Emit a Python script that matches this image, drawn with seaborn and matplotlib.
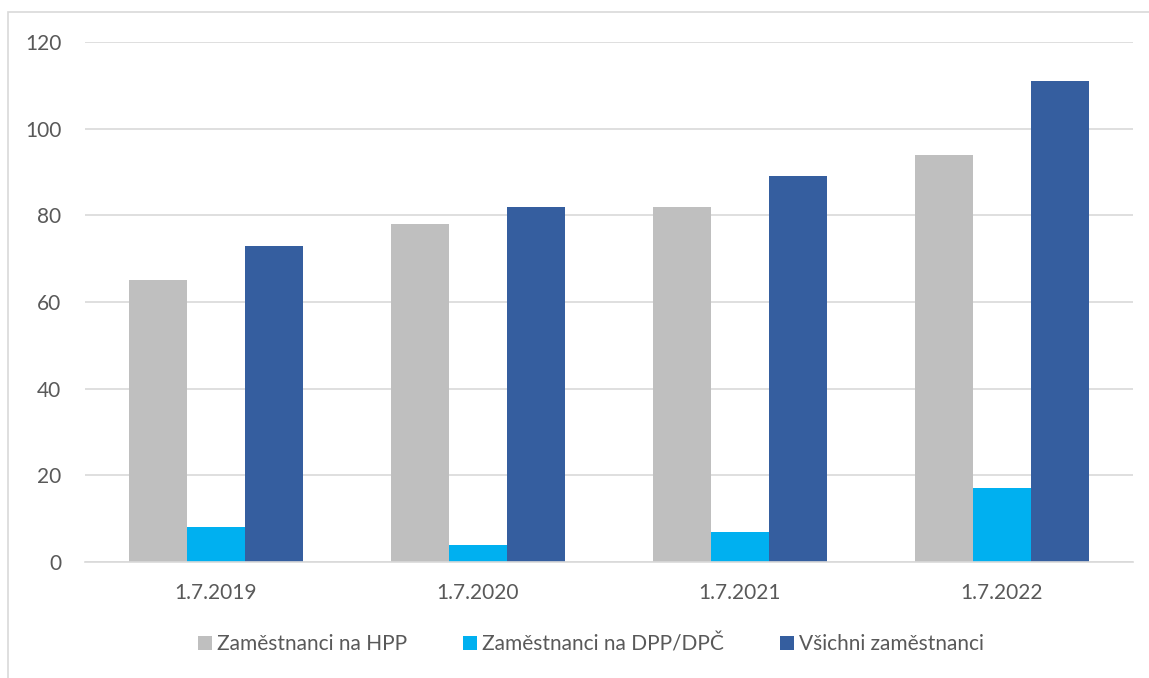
import numpy as np
import matplotlib.pyplot as plt
import pandas as pd
import seaborn as sns
from matplotlib.patches import Rectangle

# Data
dates = ["1.7.2019", "1.7.2020", "1.7.2021", "1.7.2022"]
hpp = [65, 78, 82, 94]
dpp = [8, 4, 7, 17]
vsichni = [73, 82, 89, 111]
series_names = ["Zaměstnanci na HPP", "Zaměstnanci na DPP/DPČ", "Všichni zaměstnanci"]
colors = ["#bfbfbf", "#00b0f0", "#355e9f"]

df = pd.DataFrame({
    "datum": dates * 3,
    "serie": [series_names[0]] * 4 + [series_names[1]] * 4 + [series_names[2]] * 4,
    "hodnota": hpp + dpp + vsichni,
})

sns.set_style("white")
plt.rcParams['font.family'] = ['Lato', 'DejaVu Sans']

fig = plt.figure(figsize=(11.49, 6.78), dpi=100)
ax = fig.add_axes([0.074, 0.171, 0.912, 0.767])

sns.barplot(data=df, x="datum", y="hodnota", hue="serie", palette=colors,
            width=0.664, saturation=1, linewidth=0, ax=ax, legend=True)

ax.set_ylim(0, 120)
ax.set_yticks(range(0, 121, 20))
ax.set_xlim(-0.5, 3.5)
ax.yaxis.grid(True, color="#d9d9d9", linewidth=1.2)
ax.set_axisbelow(True)
for s in ["left", "right", "top"]:
    ax.spines[s].set_visible(False)
ax.spines["bottom"].set_color("#d9d9d9")
ax.spines["bottom"].set_linewidth(1.2)
ax.tick_params(axis="both", length=0, labelsize=15, colors="#595959")
ax.tick_params(axis="x", pad=15)
ax.tick_params(axis="y", pad=17)
ax.set_xlabel("")
ax.set_ylabel("")

handles, labels = ax.get_legend_handles_labels()
ax.legend(handles, labels, loc="center", bbox_to_anchor=(0.483, -0.158),
          ncol=3, frameon=False, fontsize=15, labelcolor="#595959",
          handlelength=0.65, handleheight=0.65, handletextpad=0.25, columnspacing=2.7)

fig.patches.append(Rectangle((8 / 1149, -0.01), 1.1, 1 - 12 / 678 + 0.01,
                             transform=fig.transFigure, fill=False,
                             edgecolor="#d9d9d9", linewidth=1.2))

fig.savefig("out.png", dpi=100)
